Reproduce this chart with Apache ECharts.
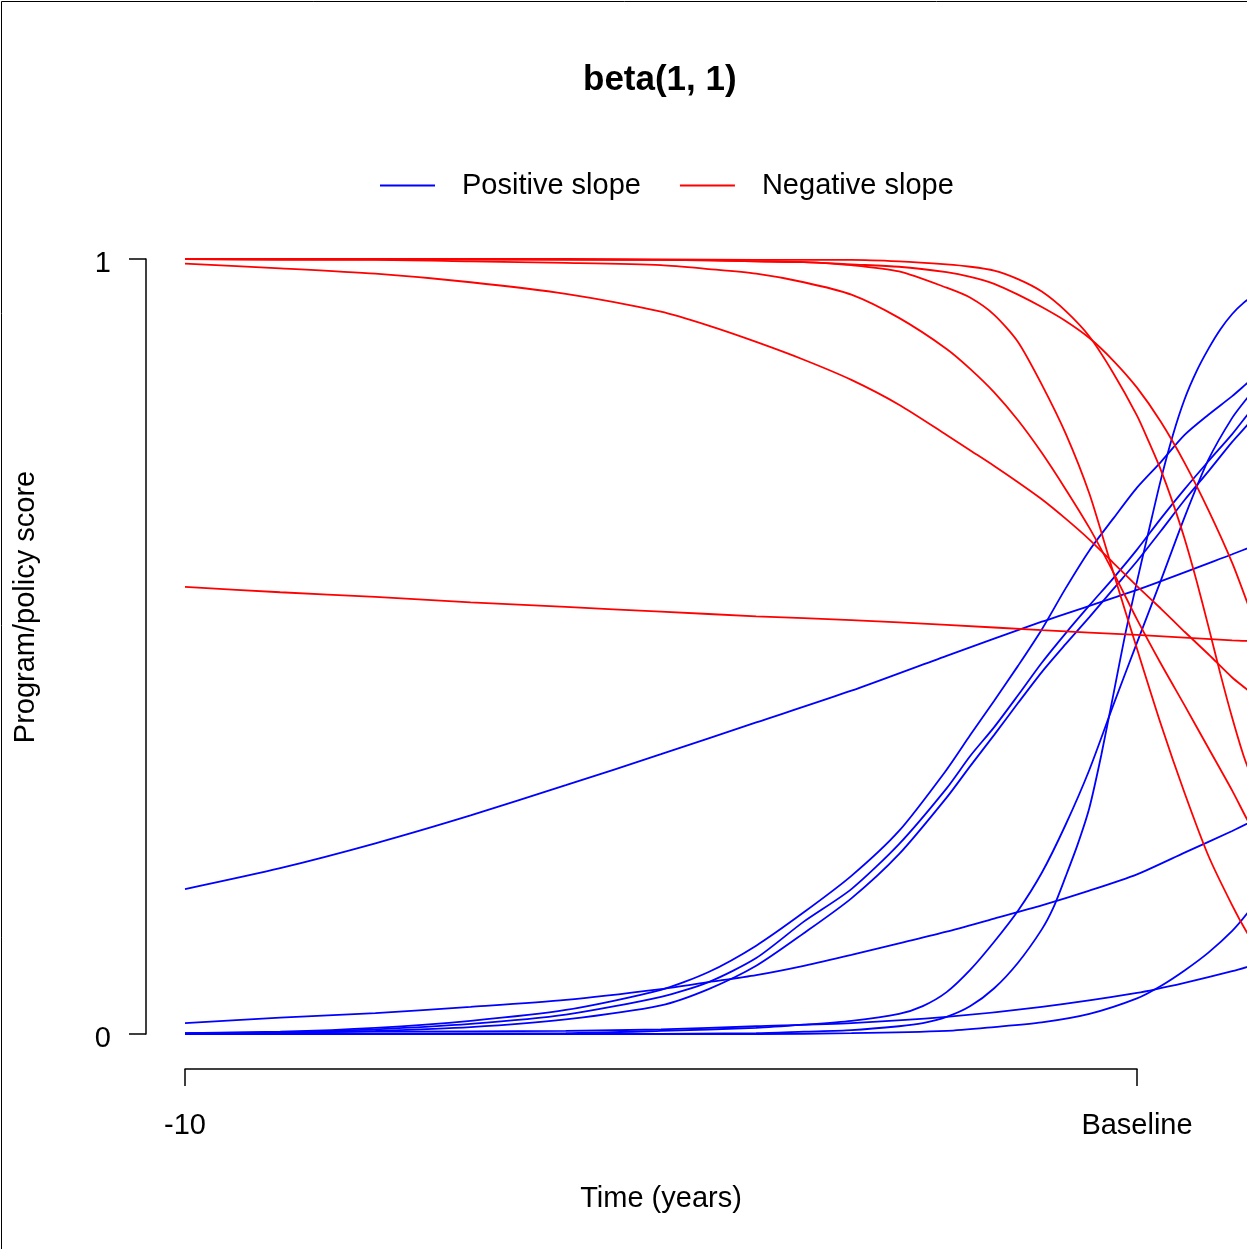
<!DOCTYPE html>
<html>
<head>
<meta charset="utf-8">
<script src="https://cdn.jsdelivr.net/npm/echarts/dist/echarts.min.js"></script>
<style>
html,body{margin:0;padding:0;background:#fff;}
#chart{width:1247px;height:1249px;}
</style>
</head>
<body>
<div id="chart"></div>
<script>
// ---------------- data (time in years relative to baseline, score 0..1) ----------------
const chartTitle = 'beta(1, 1)';
const xAxisTitle = 'Time (years)';
const yAxisTitle = 'Program/policy score';
const seriesNames = ['Positive slope', 'Negative slope'];
const xTickValues = [-10, 0];
const xTickLabels = ['-10', 'Baseline'];
const yTickValues = [0, 1];

// Positive-slope curves (blue)
const posLin = [[-10,0.187],[-9,0.214],[-8,0.246],[-7,0.282],[-6,0.321],[-5,0.361],[-4,0.402],[-3,0.443],[-2,0.488],[-1,0.532],[0,0.573],[1,0.619],[1.25,0.631]];
const posL1 = [[-10,0.014],[-9,0.021],[-8,0.027],[-7,0.035],[-6,0.044],[-5,0.058],[-4.5,0.067],[-4,0.076],[-3.5,0.088],[-3,0.102],[-2.5,0.117],[-2,0.132],[-1.5,0.149],[-1,0.166],[-0.5,0.185],[0,0.206],[0.5,0.234],[1,0.262],[1.25,0.277]];
const posM1 = [[-10,0.001],[-9,0.003],[-8,0.008],[-7,0.017],[-6,0.031],[-5,0.057],[-4.5,0.080],[-4,0.114],[-3.5,0.157],[-3,0.204],[-2.5,0.262],[-2,0.341],[-1.75,0.386],[-1.5,0.430],[-1.25,0.475],[-1,0.522],[-0.75,0.575],[-0.5,0.624],[-0.25,0.665],[0,0.705],[0.25,0.738],[0.5,0.773],[0.75,0.799],[1,0.823],[1.16,0.840],[1.25,0.849]];
const posM2 = [[-10,0.000],[-9,0.002],[-8,0.006],[-7,0.013],[-6,0.025],[-5,0.048],[-4.5,0.067],[-4,0.098],[-3.5,0.145],[-3,0.187],[-2.5,0.245],[-2,0.317],[-1.75,0.359],[-1.5,0.396],[-1.25,0.437],[-1,0.479],[-0.75,0.517],[-0.5,0.553],[-0.25,0.588],[0,0.625],[0.25,0.665],[0.5,0.703],[0.75,0.739],[1,0.774],[1.16,0.799],[1.25,0.812]];
const posM3 = [[-10,0.000],[-9,0.001],[-8,0.004],[-7,0.009],[-6,0.019],[-5,0.037],[-4.5,0.058],[-4,0.088],[-3.5,0.130],[-3,0.175],[-2.5,0.232],[-2,0.305],[-1.75,0.346],[-1.5,0.386],[-1.25,0.427],[-1,0.467],[-0.75,0.503],[-0.5,0.538],[-0.25,0.574],[0,0.610],[0.25,0.649],[0.5,0.689],[0.75,0.726],[1,0.764],[1.16,0.786],[1.25,0.800]];
const posS1 = [[-10,0.000],[-6,0.000],[-4,0.001],[-3.5,0.003],[-3,0.005],[-2.5,0.010],[-2.25,0.014],[-2,0.022],[-1.75,0.036],[-1.5,0.059],[-1.25,0.092],[-1,0.135],[-0.875,0.164],[-0.75,0.203],[-0.625,0.244],[-0.5,0.292],[-0.375,0.360],[-0.25,0.437],[-0.125,0.515],[0,0.584],[0.125,0.650],[0.25,0.715],[0.375,0.772],[0.5,0.819],[0.625,0.855],[0.75,0.884],[0.875,0.909],[1,0.929],[1.125,0.944],[1.25,0.955]];
const posS2 = [[-10,0.000],[-6,0.001],[-5,0.004],[-4,0.008],[-3.5,0.012],[-3,0.017],[-2.5,0.026],[-2.25,0.036],[-2,0.054],[-1.75,0.083],[-1.5,0.119],[-1.25,0.159],[-1,0.208],[-0.75,0.270],[-0.5,0.341],[-0.25,0.424],[0,0.505],[0.25,0.585],[0.5,0.667],[0.75,0.741],[1,0.795],[1.16,0.821],[1.25,0.834]];
const posL2 = [[-10,0.001],[-8,0.003],[-6,0.004],[-5,0.006],[-4,0.010],[-3,0.014],[-2,0.022],[-1,0.035],[0,0.053],[0.5,0.066],[1,0.081],[1.25,0.090]];
const posL3 = [[-10,0.000],[-4,0.000],[-3,0.001],[-2,0.004],[-1.5,0.009],[-1,0.015],[-0.5,0.026],[0,0.046],[0.25,0.062],[0.5,0.082],[0.75,0.105],[1,0.133],[1.16,0.156],[1.25,0.172]];

// Negative-slope curves (red)
const negA = [[-10,1.000],[-5,0.999],[-4,0.997],[-3.5,0.996],[-3,0.993],[-2.5,0.990],[-2,0.983],[-1.75,0.977],[-1.5,0.968],[-1.25,0.954],[-1,0.938],[-0.75,0.920],[-0.5,0.898],[-0.25,0.869],[0,0.834],[0.25,0.790],[0.5,0.737],[0.75,0.676],[1,0.608],[1.16,0.556],[1.25,0.524]];
const negB = [[-10,1.000],[-6,1.000],[-4,0.999],[-3,0.999],[-2.5,0.997],[-2,0.993],[-1.75,0.990],[-1.5,0.985],[-1.25,0.974],[-1,0.958],[-0.75,0.933],[-0.5,0.900],[-0.25,0.853],[0,0.798],[0.125,0.764],[0.25,0.728],[0.375,0.686],[0.5,0.639],[0.625,0.585],[0.75,0.526],[0.875,0.465],[1,0.408],[1.125,0.357],[1.25,0.317]];
const negC = [[-10,1.000],[-9,0.999],[-8,0.999],[-7,0.997],[-6,0.995],[-5,0.992],[-4.5,0.987],[-4,0.981],[-3.5,0.970],[-3,0.954],[-2.5,0.924],[-2,0.884],[-1.75,0.858],[-1.5,0.828],[-1.25,0.792],[-1,0.750],[-0.75,0.703],[-0.5,0.653],[-0.25,0.596],[0,0.535],[0.25,0.478],[0.5,0.424],[0.75,0.369],[1,0.314],[1.16,0.276],[1.25,0.257]];
const negD = [[-10,0.994],[-9,0.988],[-8,0.981],[-7,0.970],[-6,0.955],[-5,0.932],[-4.5,0.914],[-4,0.893],[-3.5,0.870],[-3,0.844],[-2.5,0.812],[-2,0.773],[-1.75,0.753],[-1.5,0.733],[-1.25,0.712],[-1,0.690],[-0.75,0.665],[-0.5,0.638],[-0.25,0.608],[0,0.578],[0.25,0.549],[0.5,0.519],[0.75,0.490],[1,0.460],[1.16,0.444],[1.25,0.434]];
const negE = [[-10,1.000],[-5,0.999],[-4,0.997],[-3.5,0.996],[-3,0.992],[-2.5,0.984],[-2,0.963],[-1.75,0.950],[-1.5,0.928],[-1.25,0.893],[-1,0.838],[-0.75,0.775],[-0.5,0.697],[-0.25,0.596],[0,0.497],[0.25,0.400],[0.5,0.311],[0.75,0.230],[1,0.166],[1.16,0.130],[1.25,0.115]];
const negF = [[-10,0.577],[-9,0.570],[-8,0.564],[-7,0.557],[-6,0.551],[-5,0.545],[-4,0.539],[-3,0.534],[-2,0.528],[-1,0.521],[0,0.515],[1,0.508],[1.25,0.507]];

const positiveCurves = [posLin, posL1, posM1, posM2, posM3, posS1, posS2, posL2, posL3];
const negativeCurves = [negA, negB, negC, negD, negE, negF];

// ---------------- chart ----------------
const FONT = '"Liberation Sans", Arial, Helvetica, sans-serif';
const BLUE = '#0000FF', RED = '#FF0000';
const PX_PER_YEAR = 95.2;
const GRID_LEFT = 185;
const GRID_WIDTH = 1247 - GRID_LEFT;           // plot runs off the right edge of the picture
const X_MAX = -10 + GRID_WIDTH / PX_PER_YEAR;   // time value at the right edge

function lineSeries(name, color, data) {
  return {
    type: 'line', name: name, data: data,
    xAxisIndex: 0, yAxisIndex: 0,
    symbol: 'none', showSymbol: false,
    smooth: 0.25,
    clip: false, silent: true, animation: false,
    emphasis: { disabled: true },
    lineStyle: { color: color, width: 1.8 },
    itemStyle: { color: color }
  };
}

const series = [];
positiveCurves.forEach(d => series.push(lineSeries(seriesNames[0], BLUE, d)));
negativeCurves.forEach(d => series.push(lineSeries(seriesNames[1], RED, d)));

const chart = echarts.init(document.getElementById('chart'), null, { renderer: 'canvas' });
chart.setOption({
  animation: false,
  backgroundColor: '#ffffff',
  title: {
    text: chartTitle, left: 583, top: 63, padding: 0,
    textStyle: { fontSize: 35, fontWeight: 'bold', color: '#000', fontFamily: FONT }
  },
  legend: {
    data: seriesNames, left: 380, top: 171, padding: 0,
    icon: 'rect', itemWidth: 55, itemHeight: 2, itemGap: 39,
    selectedMode: false,
    itemStyle: { borderWidth: 0 },
    textStyle: { fontSize: 29, color: '#000', fontFamily: FONT, padding: [0, 0, 0, 22] }
  },
  grid: [
    { left: GRID_LEFT, top: 259, width: GRID_WIDTH, height: 775 },
    { left: GRID_LEFT, top: 1068, width: 952, height: 1 }
  ],
  xAxis: [
    { gridIndex: 0, type: 'value', min: -10, max: X_MAX, show: false, splitLine: { show: false } },
    {
      gridIndex: 1, type: 'value', min: xTickValues[0], max: xTickValues[1], interval: 10, position: 'bottom',
      axisLine: { show: true, onZero: false, lineStyle: { color: '#000', width: 1.5 } },
      axisTick: { show: true, length: 17, lineStyle: { color: '#000', width: 1.5 } },
      axisLabel: {
        fontSize: 29, color: '#000', fontFamily: FONT, margin: 42,
        formatter: v => { const i = xTickValues.indexOf(v); return i >= 0 ? xTickLabels[i] : ''; }
      },
      splitLine: { show: false },
      name: xAxisTitle, nameLocation: 'middle', nameGap: 115,
      nameTextStyle: { fontSize: 29, color: '#000', fontFamily: FONT }
    }
  ],
  yAxis: [
    {
      gridIndex: 0, type: 'value', min: yTickValues[0], max: yTickValues[1], interval: 1,
      position: 'left', offset: 39,
      axisLine: { show: true, onZero: false, lineStyle: { color: '#000', width: 1.5 } },
      axisTick: { show: true, length: 17, lineStyle: { color: '#000', width: 1.5 } },
      axisLabel: { fontSize: 29, color: '#000', fontFamily: FONT, margin: 35, verticalAlign: 'top', lineHeight: 10 },
      splitLine: { show: false }
    },
    { gridIndex: 1, type: 'value', min: 0, max: 1, show: false }
  ],
  graphic: [
    {
      type: 'rect', silent: true,
      shape: { x: 1.5, y: 1.5, width: 1400, height: 1400 },
      style: { fill: 'none', stroke: '#000', lineWidth: 1 }
    },
    {
      type: 'text', x: 26, y: 607, rotation: Math.PI / 2, silent: true,
      style: {
        text: yAxisTitle, fontSize: 29, fontFamily: FONT, fill: '#000',
        align: 'center', verticalAlign: 'middle', textAlign: 'center', textVerticalAlign: 'middle'
      }
    }
  ],
  series: series
});
</script>
</body>
</html>
